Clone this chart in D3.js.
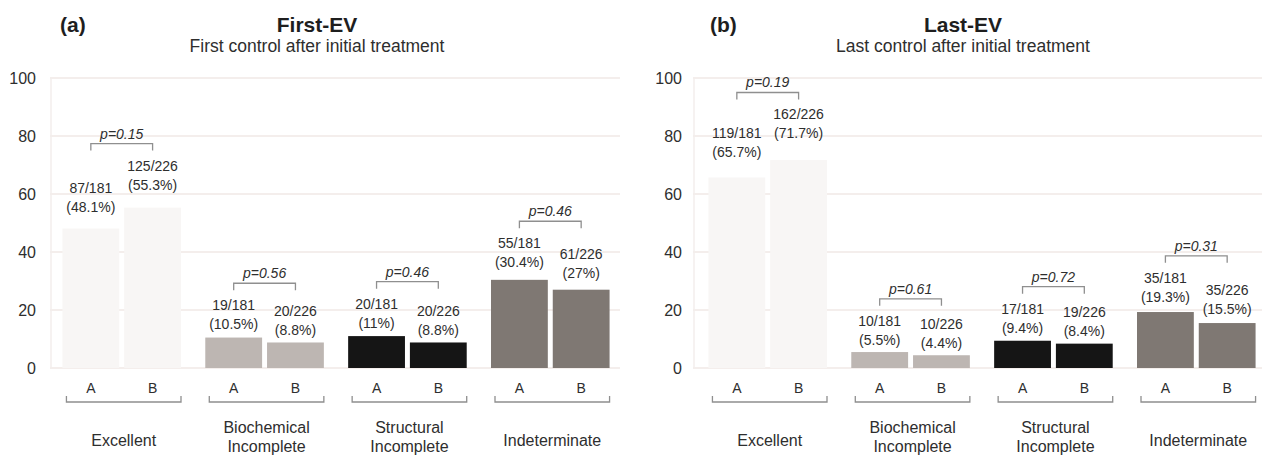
<!DOCTYPE html>
<html>
<head>
<meta charset="utf-8">
<script src="https://cdn.jsdelivr.net/npm/d3@7"></script>
<style>
  body { margin: 0; background: #fff; }
  svg { display: block; font-family: "Liberation Sans", Arial, sans-serif; }
</style>
</head>
<body>
<svg id="chart" width="1262" height="457"></svg>
<script>
// Response categories and the two patient groups
const categories = ["Excellent", "Biochemical Incomplete", "Structural Incomplete", "Indeterminate"];
const categoryLines = [["Excellent"], ["Biochemical", "Incomplete"], ["Structural", "Incomplete"], ["Indeterminate"]];
const groups = ["A", "B"];
const groupTotals = [181, 226];
const yTicks = [0, 20, 40, 60, 80, 100];
const barColors = ["#f8f6f5", "#bdb6b2", "#151515", "#7f7873"];

// (a) First control after initial treatment
const firstPctA = [48.1, 10.5, 11, 30.4];
const firstPctB = [55.3, 8.8, 8.8, 27];
const firstCountA = [87, 19, 20, 55];
const firstCountB = [125, 20, 20, 61];
const firstP = ["0.15", "0.56", "0.46", "0.46"];

// (b) Last control after initial treatment
const lastPctA = [65.7, 5.5, 9.4, 19.3];
const lastPctB = [71.7, 4.4, 8.4, 15.5];
const lastCountA = [119, 10, 17, 35];
const lastCountB = [162, 10, 19, 35];
const lastP = ["0.19", "0.61", "0.72", "0.31"];

const svg = d3.select("#chart");
const textColor = "#2e2e2e";
const y = d3.scaleLinear().domain([0, 100]).range([368, 78]);

function drawPanel(cfg) {
  const g = svg.append("g");

  // Panel tag, title and subtitle
  g.append("text").attr("x", cfg.tagX).attr("y", 32)
    .attr("font-size", 21).attr("font-weight", "bold").attr("fill", "#1e1e1e")
    .text(cfg.tag);
  g.append("text").attr("x", cfg.titleX).attr("y", 32).attr("text-anchor", "middle")
    .attr("font-size", 21).attr("font-weight", "bold").attr("fill", "#1e1e1e")
    .text(cfg.title);
  g.append("text").attr("x", cfg.titleX).attr("y", 52).attr("text-anchor", "middle")
    .attr("font-size", 17.5).attr("fill", textColor)
    .text(cfg.subtitle);

  // Horizontal gridlines and a faint left edge
  g.selectAll("line.grid").data(yTicks).join("line")
    .attr("class", "grid")
    .attr("x1", cfg.grid[0]).attr("x2", cfg.grid[1])
    .attr("y1", d => y(d)).attr("y2", d => y(d))
    .attr("stroke", "#f1e9e6").attr("stroke-width", 1.5);
  g.append("line")
    .attr("x1", cfg.grid[0] + 1).attr("x2", cfg.grid[0] + 1)
    .attr("y1", y(100)).attr("y2", y(0))
    .attr("stroke", "#f3eeec").attr("stroke-width", 1.5);

  // Y axis labels
  const axis = g.append("g").attr("transform", `translate(${cfg.grid[0]},0)`)
    .call(d3.axisLeft(y).tickValues(yTicks).tickSize(0).tickPadding(cfg.tickPad));
  axis.select(".domain").remove();
  axis.selectAll("text").attr("font-size", 16).attr("fill", textColor)
    .attr("font-family", "Liberation Sans, Arial, sans-serif");

  const x0 = d3.scaleBand().domain(categories).range(cfg.range)
    .paddingInner(0.17).paddingOuter(0.08);
  const x1 = d3.scaleBand().domain(groups).range([0, x0.bandwidth()]).paddingInner(0.08);

  const rows = categories.map((c, i) => ({
    cat: c, idx: i,
    bars: [
      { grp: "A", pct: cfg.pctA[i], n: cfg.countA[i], total: groupTotals[0] },
      { grp: "B", pct: cfg.pctB[i], n: cfg.countB[i], total: groupTotals[1] }
    ],
    p: cfg.pvals[i]
  }));

  // value labels sit a little higher above the taller bars
  const labelBase = v => y(v) - 6 - 0.075 * (y(0) - y(v));

  const cg = g.selectAll("g.cat").data(rows).join("g")
    .attr("class", "cat")
    .attr("transform", d => `translate(${x0(d.cat)},0)`);

  cg.selectAll("rect").data(d => d.bars.map(b => ({ ...b, color: barColors[d.idx] }))).join("rect")
    .attr("x", d => x1(d.grp))
    .attr("width", x1.bandwidth())
    .attr("y", d => y(d.pct))
    .attr("height", d => y(0) - y(d.pct))
    .attr("fill", d => d.color);

  // two-line value labels: count and percentage
  const lbl = cg.selectAll("text.val").data(d => d.bars).join("text")
    .attr("class", "val")
    .attr("text-anchor", "middle")
    .attr("font-size", 14).attr("fill", textColor);
  lbl.append("tspan")
    .attr("x", d => x1(d.grp) + x1.bandwidth() / 2)
    .attr("y", d => labelBase(d.pct) - 19)
    .text(d => `${d.n}/${d.total}`);
  lbl.append("tspan")
    .attr("x", d => x1(d.grp) + x1.bandwidth() / 2)
    .attr("y", d => labelBase(d.pct))
    .text(d => `(${d.pct}%)`);

  // p-value brackets between A and B
  cg.each(function (d) {
    const sel = d3.select(this);
    const xa = x1("A") + x1.bandwidth() / 2;
    const xb = x1("B") + x1.bandwidth() / 2;
    const top = Math.min(labelBase(d.bars[0].pct), labelBase(d.bars[1].pct)) - 46;
    sel.append("path")
      .attr("d", `M${xa},${top + 7}V${top}H${xb}V${top + 7}`)
      .attr("fill", "none").attr("stroke", "#8f8f8f").attr("stroke-width", 1.3);
    sel.append("text")
      .attr("x", (xa + xb) / 2).attr("y", top - 5)
      .attr("text-anchor", "middle")
      .attr("font-size", 14).attr("font-style", "italic").attr("fill", textColor)
      .text(`p=${d.p}`);

    // group letters and bottom category bracket
    sel.selectAll("text.grp").data(groups).join("text")
      .attr("class", "grp")
      .attr("x", k => x1(k) + x1.bandwidth() / 2).attr("y", 393)
      .attr("text-anchor", "middle").attr("font-size", 14).attr("fill", textColor)
      .text(k => k);
    sel.append("path")
      .attr("d", `M4,396V402H${x0.bandwidth()}V396`)
      .attr("fill", "none").attr("stroke", "#8f8f8f").attr("stroke-width", 1.3);

    const lines = categoryLines[d.idx];
    const t = sel.append("text")
      .attr("text-anchor", "middle").attr("font-size", 16).attr("fill", textColor);
    lines.forEach((ln, j) => {
      t.append("tspan")
        .attr("x", x0.bandwidth() / 2 + 2)
        .attr("y", lines.length === 1 ? 446 : 433 + j * 19)
        .text(ln);
    });
  });
}

drawPanel({
  tag: "(a)", tagX: 60, title: "First-EV", subtitle: "First control after initial treatment", titleX: 317,
  grid: [50, 620], tickPad: 14, range: [51, 621],
  pctA: firstPctA, pctB: firstPctB, countA: firstCountA, countB: firstCountB, pvals: firstP
});

drawPanel({
  tag: "(b)", tagX: 710, title: "Last-EV", subtitle: "Last control after initial treatment", titleX: 963,
  grid: [693, 1262], tickPad: 11, range: [697, 1267],
  pctA: lastPctA, pctB: lastPctB, countA: lastCountA, countB: lastCountB, pvals: lastP
});
</script>
</body>
</html>
